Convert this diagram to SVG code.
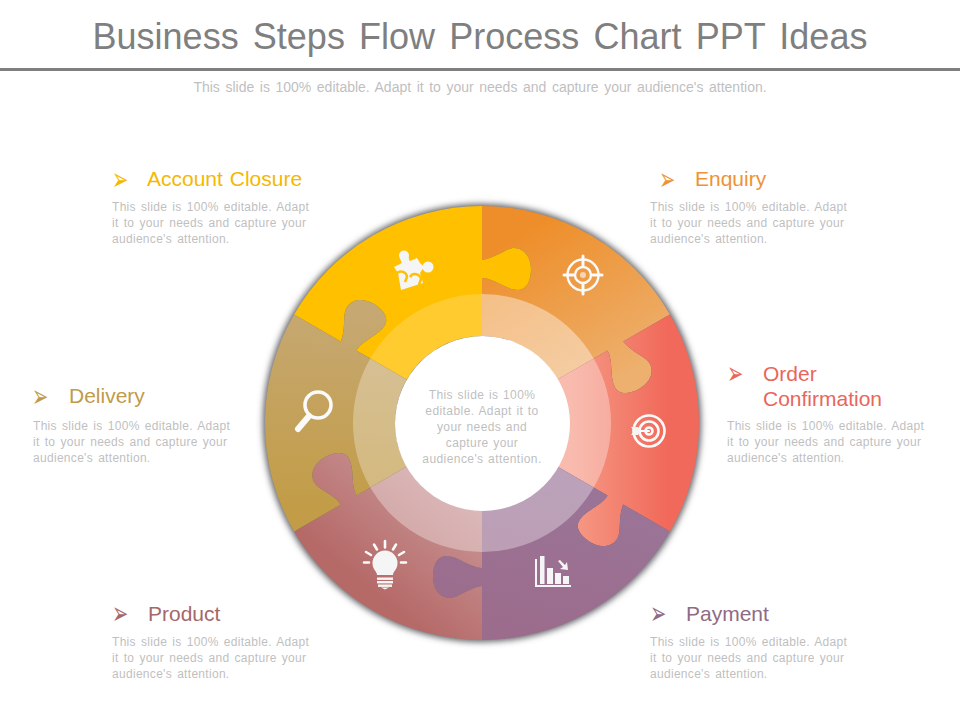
<svg xmlns="http://www.w3.org/2000/svg" width="960" height="720" viewBox="0 0 960 720">
<style>
text{font-family:"Liberation Sans",Arial,sans-serif}
.sub,.body,.center{fill:#BFBFBF;font-size:12px;word-spacing:1.5px;letter-spacing:.3px}
.sub{font-size:14px;text-anchor:middle;word-spacing:1.67px;letter-spacing:0}
.center{text-anchor:middle;letter-spacing:.42px;word-spacing:.8px}
.head{font-size:21px;word-spacing:1px}
.bul{font-family:"DejaVu Sans",sans-serif;font-size:18px}
.ring{fill:#fff}
.ico{fill:#F5F5F5;stroke:none}
.lin{fill:none;stroke:#FAFAFA;stroke-linecap:round}
</style>
<defs>
<filter id="sh" x="-10%" y="-10%" width="120%" height="120%"><feGaussianBlur stdDeviation="3"/></filter>
<path id="piece" d="M0,-87L0,-145C12,-145 24,-133 36,-133C45,-133 49,-143 49,-154C49,-166 42,-175 32,-175C24,-175 14,-165 0,-163L0,-217A217,217 0 0 0 -187.9,-108.5L-141.16,-81.5C-135.89,-94.62 -139.55,-108.28 -135.55,-115.21C-130.55,-123.87 -119.26,-125.43 -108.86,-119.43C-99.34,-113.93 -92.68,-105.47 -97.18,-97.68C-103.18,-87.28 -119.57,-82.89 -125.57,-72.5L-75.3,-43.5A87,87 0 0 1 0,-87Z"/>
<path id="band" d="M0,-87L0,-129A129,129 0 0 0 -111.7,-64.5L-75.3,-43.5A87,87 0 0 1 0,-87Z"/>
<linearGradient id="gO" gradientUnits="userSpaceOnUse" x1="40" y1="-190" x2="130" y2="-40" gradientTransform="rotate(-60)"><stop offset="0" stop-color="#EE8E2A"/><stop offset="1" stop-color="#EDB06E"/></linearGradient>
<linearGradient id="gR" gradientUnits="userSpaceOnUse" x1="90" y1="0" x2="185" y2="0" gradientTransform="rotate(-120)"><stop offset="0" stop-color="#F59A85"/><stop offset="1" stop-color="#F1695A"/></linearGradient>
<linearGradient id="gP" gradientUnits="userSpaceOnUse" x1="100" y1="60" x2="60" y2="210" gradientTransform="rotate(-180)"><stop offset="0" stop-color="#9A7598"/><stop offset="1" stop-color="#9C6C8C"/></linearGradient>
<linearGradient id="gK" gradientUnits="userSpaceOnUse" x1="-130" y1="150" x2="-30" y2="30" gradientTransform="rotate(-240)"><stop offset="0" stop-color="#B56A68"/><stop offset="1" stop-color="#CE9EA0"/></linearGradient>
<linearGradient id="gT" gradientUnits="userSpaceOnUse" x1="-130" y1="90" x2="-120" y2="-110" gradientTransform="rotate(-300)"><stop offset="0" stop-color="#C29C46"/><stop offset="1" stop-color="#C6A872"/></linearGradient>
</defs>
<rect width="960" height="720" fill="#fff"/>
<text x="480" y="49" text-anchor="middle" font-size="36" fill="#7F7F7F" word-spacing="4.2">Business Steps Flow Process Chart PPT Ideas</text>
<rect x="0" y="68" width="960" height="3" fill="#7F7F7F"/>
<text class="sub" x="480" y="92">This slide is 100% editable. Adapt it to your needs and capture your audience's attention.</text>
<circle id="shadow" cx="482" cy="423" r="219" fill="#5F6166" filter="url(#sh)"/>

<g id="node-enquiry">
<use href="#piece" transform="translate(482,423) rotate(60)" fill="url(#gO)"/>
<use href="#band" class="ring" opacity=".4" transform="translate(482,423) rotate(60)"/>
<g class="lin" stroke-width="2.4"><circle cx="583" cy="275" r="15.5"/><circle cx="583" cy="275" r="8"/><path d="M564,275H574M592,275H602M583,256V266M583,284V294" stroke-width="3"/></g>
<circle cx="583" cy="275" r="3" fill="#F6D5B5"/>
<text class="bul" transform="translate(659,189.500) scale(1.08,1.75)" fill="#EE9336">➢</text>
<text class="head" x="695" y="186" fill="#EE9336">Enquiry</text>
<text class="body" x="650" y="211">This slide is 100% editable. Adapt</text>
<text class="body" x="650" y="227">it to your needs and capture your</text>
<text class="body" x="650" y="243">audience's attention.</text>
</g>

<g id="node-order-confirmation">
<use href="#piece" transform="translate(482,423) rotate(120)" fill="url(#gR)"/>
<use href="#band" class="ring" opacity=".33" transform="translate(482,423) rotate(120)"/>
<g class="lin" stroke-width="2.6"><circle cx="649" cy="431" r="15.5"/><circle cx="649" cy="431" r="9.5"/><circle cx="649" cy="431" r="3.5"/><path d="M637,431H649" stroke-width="2"/></g>
<path class="ico" d="M631,427L638,427L641,431L638,435L631,435L634,431Z"/>
<text class="bul" transform="translate(727,383.500) scale(1.08,1.75)" fill="#E9665B">➢</text>
<text class="head" x="763" y="381" fill="#E9665B">Order</text>
<text class="head" x="763" y="406" fill="#E9665B">Confirmation</text>
<text class="body" x="727" y="430">This slide is 100% editable. Adapt</text>
<text class="body" x="727" y="446">it to your needs and capture your</text>
<text class="body" x="727" y="462">audience's attention.</text>
</g>

<g id="node-payment">
<use href="#piece" transform="translate(482,423) rotate(180)" fill="url(#gP)"/>
<use href="#band" class="ring" opacity=".33" transform="translate(482,423) rotate(180)"/>
<g class="ico"><rect x="535" y="559" width="2" height="28"/><rect x="535" y="585" width="36" height="2"/><rect x="540" y="556" width="4.5" height="28"/><rect x="547" y="568" width="6" height="16"/><rect x="555" y="573" width="6" height="11"/><rect x="563" y="576" width="6" height="8"/><path d="M558,561L560,560L565,565L567,562L568,570L560,569L563,567Z"/></g>
<text class="bul" transform="translate(650,623.500) scale(1.08,1.75)" fill="#8F6A85">➢</text>
<text class="head" x="686" y="621" fill="#8F6A85">Payment</text>
<text class="body" x="650" y="646">This slide is 100% editable. Adapt</text>
<text class="body" x="650" y="662">it to your needs and capture your</text>
<text class="body" x="650" y="678">audience's attention.</text>
</g>

<g id="node-product">
<use href="#piece" transform="translate(482,423) rotate(240)" fill="url(#gK)"/>
<use href="#band" class="ring" opacity=".33" transform="translate(482,423) rotate(240)"/>
<path class="ico" d="M377,575C377,571 372.5,570 372.5,563A12.5,12.5 0 0 1 397.5,563C397.5,570 393,571 393,575Z"/>
<g class="ico"><rect x="377" y="577.5" width="16" height="2.4"/><rect x="377" y="581" width="16" height="2.4"/><rect x="378" y="584.5" width="14" height="2.4"/><path d="M381,587.5H389L385,589.5Z"/></g>
<path class="lin" stroke-width="2.6" d="M364,562.500H369M366,552L371,555M374,544.500L377,549.500M385,541V547.500M396,544.500L393,549.500M404,552L399,555M401,562.500H406"/>
<text class="bul" transform="translate(112,623.500) scale(1.08,1.75)" fill="#A5686A">➢</text>
<text class="head" x="148" y="621" fill="#A5686A">Product</text>
<text class="body" x="112" y="646">This slide is 100% editable. Adapt</text>
<text class="body" x="112" y="662">it to your needs and capture your</text>
<text class="body" x="112" y="678">audience's attention.</text>
</g>

<g id="node-delivery">
<use href="#piece" transform="translate(482,423) rotate(300)" fill="url(#gT)"/>
<use href="#band" class="ring" opacity=".29" transform="translate(482,423) rotate(300)"/>
<circle class="lin" cx="318" cy="405" r="13" stroke-width="3.6"/>
<path class="lin" stroke-width="6" d="M309,416L298,429"/>
<text class="bul" transform="translate(32,406.500) scale(1.08,1.75)" fill="#BF9B4B">➢</text>
<text class="head" x="69" y="403" fill="#BF9B4B">Delivery</text>
<text class="body" x="33" y="430">This slide is 100% editable. Adapt</text>
<text class="body" x="33" y="446">it to your needs and capture your</text>
<text class="body" x="33" y="462">audience's attention.</text>
</g>

<g id="node-account-closure">
<use href="#piece" transform="translate(482,423)" fill="#FFC000"/>
<use href="#band" class="ring" opacity=".18" transform="translate(482,423)"/>
<g class="ico"><path d="M394,267L402,263L410,261L417,258L420,263L424,267L420,273L423,283L401,290L398,273Z"/><circle cx="404" cy="255.500" r="5"/><path d="M400,258L408,256L410,262L402,264Z"/><circle cx="428" cy="267" r="5.500"/></g>
<path d="M397,273A6,6 0 0 1 407,277L405,282M410,277A6,6 0 0 1 421,279L419,285" fill="none" stroke="#FFC000" stroke-width="2.500"/>
<text class="bul" transform="translate(112,189.500) scale(1.08,1.75)" fill="#F5B800">➢</text>
<text class="head" x="147" y="186" fill="#F5B800">Account Closure</text>
<text class="body" x="112" y="211">This slide is 100% editable. Adapt</text>
<text class="body" x="112" y="227">it to your needs and capture your</text>
<text class="body" x="112" y="243">audience's attention.</text>
</g>

<g id="node-center">
<circle cx="482.500" cy="423.500" r="87.500" fill="#fff"/>
<text class="center" x="482" y="399">This slide is 100%</text>
<text class="center" x="482" y="415">editable. Adapt it to</text>
<text class="center" x="482" y="431">your needs and</text>
<text class="center" x="482" y="447">capture your</text>
<text class="center" x="482" y="463">audience's attention.</text>
</g>
</svg>
